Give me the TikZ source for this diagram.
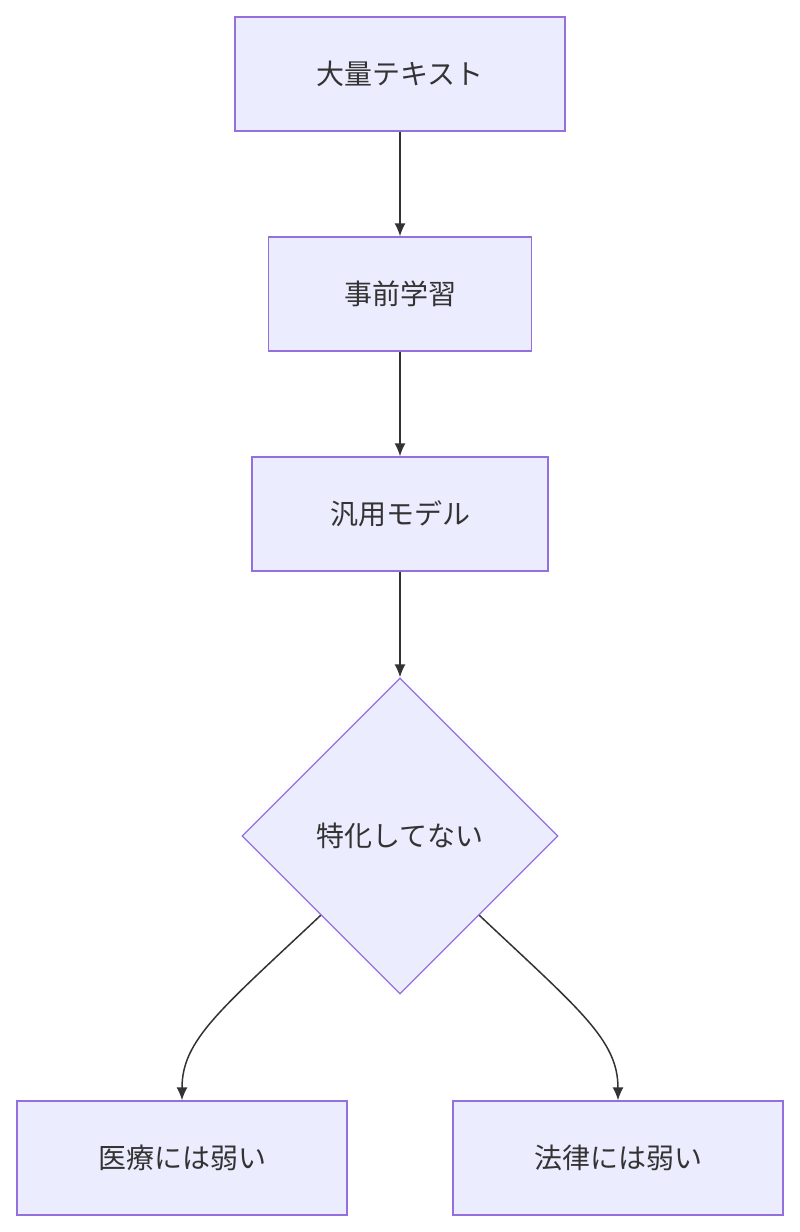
\documentclass[tikz,border=0pt]{standalone}
\usepackage{fontspec}
\newfontfamily\cjk{Noto Sans CJK JP}
\usetikzlibrary{positioning,arrows.meta,shapes.geometric}
\definecolor{boxfill}{HTML}{ECECFF}
\definecolor{boxline}{HTML}{9370DB}
\definecolor{edgeline}{HTML}{333333}
\tikzset{
    stage/.style = {
        draw=boxline,
        fill=boxfill,
        shape=rectangle,
        minimum height=114pt,
        line width=1.3pt,
        font=\cjk\fontsize{28}{32}\selectfont,
        text=edgeline
    },
    decision/.style = {
        draw=boxline,
        fill=boxfill,
        shape=diamond,
        minimum width=316pt,
        minimum height=316pt,
        inner sep=0pt,
        line width=1.3pt,
        font=\cjk\fontsize{28}{32}\selectfont,
        text=edgeline
    },
    flow/.style = {
        draw=edgeline,
        line width=1.5pt,
        -{Latex[length=13pt,width=11pt]}
    },
}
\begin{document}
\begin{tikzpicture}[x=1pt,y=-1pt]
            \useasboundingbox (0,0) rectangle (800,1232);
            \node[stage, minimum width=330pt] (text) at (400,74) {大量テキスト};
            \node[stage, minimum width=263pt] (pretrain) at (400,294) {事前学習};
            \node[stage, minimum width=296pt] (general) at (400,514) {汎用モデル};
            \node[decision] (special) at (400,836) {特化してない};
            \node[stage, minimum width=330pt] (medical) at (182,1158) {医療には弱い};
            \node[stage, minimum width=330pt] (legal) at (618,1158) {法律には弱い};

            \draw[flow] (text) -- (pretrain);
            \draw[flow] (pretrain) -- (general);
            \draw[flow] (general) -- (special);

            \draw[flow] (special.south west) .. controls (220,1010) and (182,1040) .. (medical.north);
            \draw[flow] (special.south east) .. controls (580,1010) and (618,1040) .. (legal.north);
\end{tikzpicture}
\end{document}
